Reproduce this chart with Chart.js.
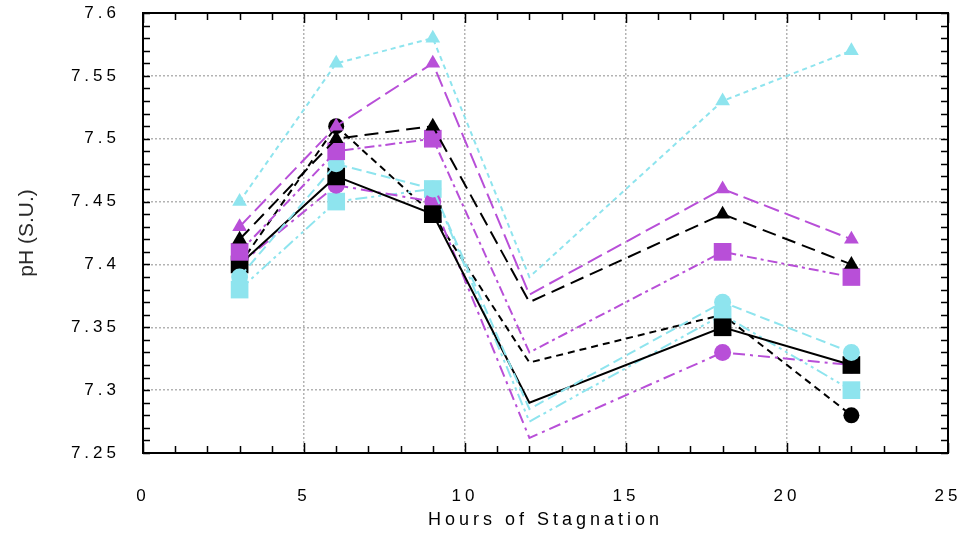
<!DOCTYPE html>
<html>
<head>
<meta charset="utf-8">
<script src="https://cdn.jsdelivr.net/npm/chart.js@4/dist/chart.umd.min.js"></script>
<style>
  html, body { margin: 0; padding: 0; background: #fff; }
  #wrap { width: 963px; height: 536px; }
</style>
</head>
<body>
<div id="wrap"><canvas id="ph-canvas"></canvas></div>
<script>
// hours of stagnation
const hours = [3, 6, 9, 12, 18, 22];

// pH readings per sampling series
const blackTri   = [7.42, 7.50, 7.51, 7.37, 7.44, 7.40];
const blackSq    = [7.40, 7.47, 7.44, 7.29, 7.35, 7.32];
const blackCirc  = [7.40, 7.51, 7.44, 7.322, 7.36, 7.28];
const purpleTri  = [7.43, 7.51, 7.56, 7.376, 7.46, 7.42];
const purpleSq   = [7.41, 7.49, 7.50, 7.33, 7.41, 7.39];
const purpleCirc = [7.40, 7.463, 7.45, 7.262, 7.33, 7.32];
const cyanTri    = [7.45, 7.56, 7.58, 7.39, 7.53, 7.57];
const cyanSq     = [7.38, 7.45, 7.46, 7.275, 7.36, 7.30];
const cyanCirc   = [7.39, 7.48, 7.46, 7.285, 7.37, 7.33];

const yTicks = [7.25, 7.3, 7.35, 7.4, 7.45, 7.5, 7.55, 7.6];

const BLACK = '#000000';
const PURPLE = '#b84fd8';
const CYAN = '#8ee4ee';

function pts(vals) {
    return hours.map((h, i) => ({x: h, y: vals[i]}));
}

function series(vals, color, style, dash, r) {
    return {
        data: pts(vals),
        borderColor: color,
        backgroundColor: color,
        borderWidth: 2,
        borderDash: dash,
        pointStyle: style,
        pointRadius: ctx => hours[ctx.dataIndex] === 12 ? 0 : r,
        pointBorderWidth: 0,
        showLine: true,
        tension: 0
    };
}

let frame = {
    id: 'frame',
    beforeDraw(chart) {
        chart.ctx.letterSpacing = '4px';
    },
    afterDraw(chart) {
        const {ctx, chartArea: a, scales: {x, y}} = chart;
        ctx.save();
        ctx.strokeStyle = '#000';
        ctx.lineWidth = 1.5;
        ctx.beginPath();
        for (let v = 0; v <= 25; v++) {
            const px = Math.round(x.getPixelForValue(v)) + 0.5;
            const len = v % 5 === 0 ? 10 : 7;
            ctx.moveTo(px, a.bottom); ctx.lineTo(px, a.bottom - len);
            ctx.moveTo(px, a.top); ctx.lineTo(px, a.top + len);
        }
        for (let i = 0; i <= 35; i++) {
            const py = Math.round(y.getPixelForValue(7.25 + i * 0.01)) + 0.5;
            ctx.moveTo(a.left, py); ctx.lineTo(a.left + 7, py);
            ctx.moveTo(a.right, py); ctx.lineTo(a.right - 7, py);
        }
        ctx.stroke();
        ctx.lineWidth = 2;
        ctx.strokeRect(a.left, a.top, a.right - a.left, a.bottom - a.top);
        ctx.restore();
    }
};

// the pH title is not letter-spaced like the rest of the text
function plainTitle(s) {
    if (s._plainTitle) return;
    const orig = s.drawTitle.bind(s);
    s.drawTitle = function () {
        const c = this.ctx;
        const old = c.letterSpacing;
        c.letterSpacing = '0px';
        orig();
        c.letterSpacing = old;
    };
    s._plainTitle = true;
}

let phCtx = document.getElementById('ph-canvas').getContext('2d');
phCtx.letterSpacing = '4px';

let phChart = new Chart(phCtx, {
    type: 'scatter',
    data: {
        datasets: [
            series(cyanTri, CYAN, 'triangle', [5, 4], 8.5),
            series(purpleTri, PURPLE, 'triangle', [16, 6], 8.5),
            series(blackTri, BLACK, 'triangle', [14, 7], 8.5),
            series(purpleSq, PURPLE, 'rect', [10, 4, 3, 4], 12.5),
            series(cyanCirc, CYAN, 'circle', [10, 5], 8.5),
            series(blackSq, BLACK, 'rect', [], 12.5),
            series(purpleCirc, PURPLE, 'circle', [12, 5, 3, 5], 8.5),
            series(cyanSq, CYAN, 'rect', [12, 4, 3, 4, 3, 4], 12.5),
            series(blackCirc, BLACK, 'circle', [7, 5], 8)
        ]
    },
    options: {
        responsive: true,
        maintainAspectRatio: false,
        animation: false,
        layout: {
            padding: {left: 0, right: 15, top: 13, bottom: 0}
        },
        plugins: {
            legend: {display: false},
            tooltip: {enabled: false}
        },
        scales: {
            x: {
                type: 'linear',
                min: 0,
                max: 25,
                afterFit: s => {
                    s.height = 83;
                    s.paddingLeft = 0;
                    s.paddingRight = 0;
                },
                ticks: {
                    stepSize: 5,
                    padding: 33,
                    color: '#000',
                    font: {family: 'Liberation Sans', size: 17}
                },
                grid: {color: '#b3b3b3', lineWidth: 1.5, drawTicks: false},
                border: {display: false, dash: [2, 2]},
                title: {
                    display: true,
                    text: 'Hours of Stagnation',
                    color: '#000',
                    font: {family: 'Liberation Sans', size: 18},
                    padding: {top: 0, bottom: 5}
                }
            },
            y: {
                type: 'linear',
                min: 7.25,
                max: 7.6,
                afterFit: s => {
                    s.width = 143;
                    s.paddingTop = 0;
                    s.paddingBottom = 0;
                    plainTitle(s);
                },
                afterBuildTicks: s => { s.ticks = yTicks.map(v => ({value: v})); },
                ticks: {
                    padding: 23,
                    color: '#000',
                    font: {family: 'Liberation Sans', size: 17},
                    callback: v => String(+v.toFixed(2))
                },
                grid: {color: '#b3b3b3', lineWidth: 1.5, drawTicks: false},
                border: {display: false, dash: [2, 2]},
                title: {
                    display: true,
                    text: 'pH (S.U.)',
                    color: '#2a2a2a',
                    font: {family: 'Liberation Sans', size: 21},
                    padding: {top: 15, bottom: 0}
                }
            }
        }
    },
    plugins: [frame]
});
</script>
</body>
</html>
